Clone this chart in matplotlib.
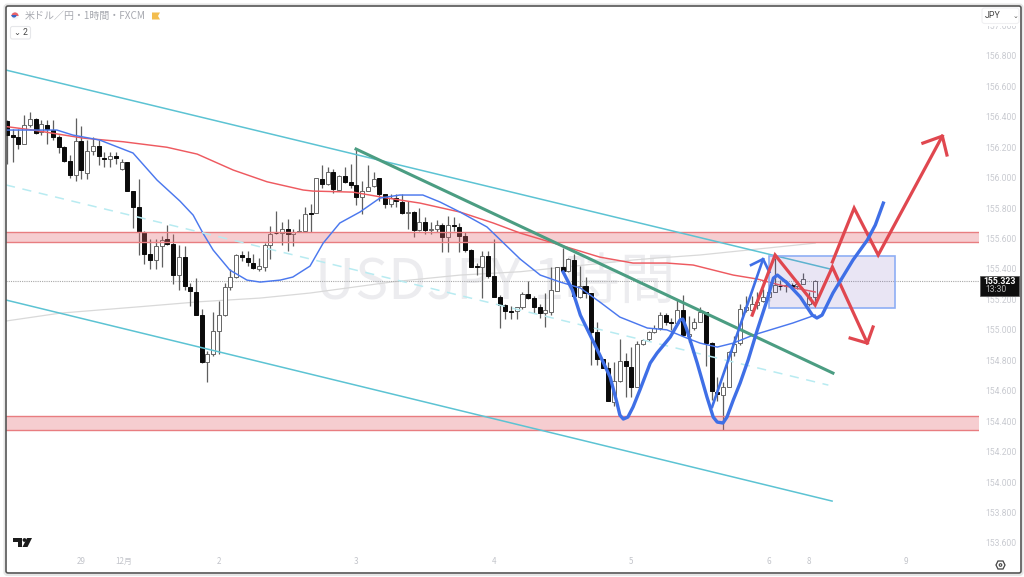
import matplotlib
matplotlib.use("Agg")
import matplotlib.pyplot as plt
from matplotlib.patches import FancyBboxPatch, Rectangle, Polygon, Circle, Wedge
from matplotlib.transforms import Affine2D

W, H = 1024, 577
CJK = ['Noto Sans CJK JP', 'DejaVu Sans']

open_ = [156.37,156.278,156.265,156.22,156.346,156.383,156.30,156.346,156.313,156.265,
         156.20,156.11,156.017,156.24,156.03,156.177,156.21,156.13,156.12,156.144,
         156.055,156.10,155.91,155.805,155.64,155.50,155.46,155.55,155.595,155.565,
         155.36,155.48,155.28,155.25,155.10,154.79,154.84,154.99,155.095,155.28,
         155.35,155.49,155.475,155.44,155.40,155.41,155.56,155.638,155.635,155.66,
         155.63,155.64,155.652,155.765,155.766,155.99,155.96,156.035,155.92,156.01,
         155.97,155.95,155.87,155.915,155.945,155.995,155.89,155.83,155.864,155.843,
         155.766,155.775,155.656,155.71,155.658,155.66,155.69,155.612,155.689,155.678,
         155.62,155.525,155.42,155.41,155.485,155.354,155.216,155.163,155.126,155.124,
         155.15,155.234,155.21,155.148,155.11,155.115,155.257,155.41,155.39,155.458,
         155.218,155.29,155.244,154.983,154.808,154.747,154.527,154.665,154.797,154.758,
         154.627,154.907,154.937,154.983,155.01,155.10,155.049,155.043,155.13,154.96,
         155.01,155.05,155.12,154.916,154.594,154.572,154.627,154.857,154.915,155.13,
         155.13,155.165,155.19,155.214,155.25,155.29,155.29,155.294,155.285,155.30,
         155.17,155.214]
close = [156.28,156.269,156.219,156.343,156.383,156.295,156.35,156.317,156.265,156.20,
         156.11,156.015,156.24,156.05,156.175,156.21,156.14,156.12,156.14,156.13,
         156.10,155.91,155.805,155.64,155.50,155.46,155.55,155.59,155.565,155.36,
         155.48,155.29,155.255,155.10,154.79,154.84,154.99,155.095,155.28,155.35,
         155.49,155.48,155.445,155.405,155.42,155.56,155.63,155.635,155.66,155.63,
         155.64,155.652,155.76,155.76,155.995,155.96,156.035,155.925,156.01,155.97,
         155.95,155.87,155.915,155.94,155.99,155.89,155.83,155.864,155.847,155.766,
         155.777,155.656,155.71,155.656,155.663,155.69,155.608,155.687,155.682,155.62,
         155.525,155.41,155.415,155.485,155.354,155.218,155.163,155.126,155.117,155.148,
         155.234,155.21,155.148,155.113,155.13,155.262,155.41,155.39,155.463,155.224,
         155.29,155.244,154.983,154.81,154.75,154.532,154.665,154.797,154.762,154.626,
         154.907,154.933,154.983,155.01,155.10,155.053,155.043,155.13,154.964,154.97,
         155.05,155.115,154.916,154.60,154.576,154.627,154.857,154.91,155.135,155.15,
         155.168,155.185,155.214,155.25,155.295,155.285,155.295,155.284,155.30,155.334,
         155.218,155.323]
high = [156.38,156.32,156.32,156.41,156.43,156.39,156.38,156.38,156.38,156.28,
        156.21,156.15,156.39,156.34,156.25,156.27,156.25,156.17,156.17,156.17,
        156.12,156.10,155.91,155.99,155.65,155.60,155.60,155.62,155.69,155.63,
        155.56,155.55,155.31,155.34,155.14,154.86,155.12,155.19,155.31,155.40,
        155.50,155.52,155.52,155.50,155.47,155.57,155.68,155.78,155.71,155.73,
        155.66,155.73,155.81,155.83,156.0,156.08,156.07,156.06,156.02,156.07,
        156.09,156.19,155.98,156.08,156.04,156.0,155.89,155.89,155.89,155.89,
        155.85,155.78,155.80,155.74,155.71,155.72,155.70,155.75,155.74,155.70,
        155.64,155.53,155.44,155.52,155.52,155.60,155.23,155.17,155.16,155.15,
        155.25,155.32,155.22,155.17,155.24,155.41,155.41,155.54,155.47,155.50,
        155.42,155.35,155.245,155.05,154.81,154.79,154.79,154.94,154.85,154.89,
        154.93,154.94,154.99,155.03,155.12,155.11,155.08,155.20,155.23,155.09,
        155.08,155.15,155.12,154.92,154.69,154.66,154.86,154.96,155.17,155.22,
        155.22,155.25,155.27,155.30,155.47,155.33,155.33,155.31,155.32,155.375,
        155.25,155.325]
low = [156.09,156.10,156.19,156.22,156.335,156.29,156.28,156.22,156.25,156.16,
       156.10,156.00,155.98,155.99,155.99,156.15,156.08,156.07,156.07,156.09,
       156.05,155.91,155.67,155.49,155.43,155.40,155.40,155.41,155.56,155.30,
       155.26,155.26,155.16,155.10,154.78,154.66,154.83,154.84,155.09,155.26,
       155.34,155.45,155.42,155.40,155.39,155.39,155.465,155.63,155.56,155.52,
       155.55,155.64,155.65,155.64,155.765,155.93,155.95,155.90,155.91,155.965,
       155.93,155.82,155.76,155.91,155.94,155.85,155.80,155.81,155.81,155.76,
       155.66,155.61,155.65,155.63,155.63,155.64,155.51,155.51,155.65,155.51,
       155.51,155.41,155.36,155.21,155.34,155.215,155.01,155.07,155.07,155.07,
       155.14,155.20,155.11,155.08,155.02,155.10,155.255,155.38,155.38,155.20,
       155.21,155.21,154.77,154.77,154.75,154.53,154.50,154.66,154.56,154.56,
       154.625,154.90,154.93,154.98,155.0,155.03,155.0,155.03,154.96,154.92,
       155.0,155.05,154.76,154.54,154.53,154.34,154.625,154.83,154.90,155.12,
       155.10,155.14,155.18,155.19,155.25,155.26,155.25,155.27,155.27,155.30,
       155.16,155.19]

red_ma_x = [0,4.5,13.3,20.3,27.9,33.2,39.5,45.4,51.7,53.4,60.4,66.4,72.1,79.1,84.9,89.6,96.6,103.5,109.3,115.2,119.8,126.8,131,135,141.1]
red_ma_y = [156.335,156.313,156.26,156.236,156.20,156.155,156.05,155.973,155.919,155.912,155.905,155.866,155.833,155.774,155.702,155.636,155.557,155.478,155.439,155.439,155.426,155.36,155.334,155.294,155.249]
blue_ma_x = [0,8.7,11.5,16.2,22,26.2,30.2,32.5,34.2,36,38.9,41.9,44.2,47.7,49.9,52.9,55.2,58.1,61.6,65.1,68.6,72.6,75.6,79.1,83.8,89.6,93.1,96.6,100.1,103.5,107,111.8,115.2,118.7,121,124,126.8,130.3,137.2,141.1]
blue_ma_y = [156.313,156.313,156.28,156.247,156.162,155.984,155.846,155.754,155.636,155.524,155.393,155.327,155.314,155.327,155.347,155.419,155.57,155.702,155.774,155.866,155.886,155.886,155.84,155.774,155.676,155.465,155.36,155.314,155.275,155.183,155.084,155.012,155.0,154.946,154.913,154.887,154.913,154.966,155.045,155.097]
gray_ma_x = [-0.2,9.3,23.2,33.7,44.2,52.9,67.4,79.1,89.6,109.3,113.5,121,141.1]
gray_ma_y = [155.058,155.11,155.152,155.185,155.209,155.242,155.316,155.36,155.382,155.459,155.472,155.492,155.57]

chan_x = [-0.17, 143.7]
chan_upper = [156.707, 155.40]
chan_lower_x = [-0.17, 144.05]
chan_lower = [155.196, 153.875]
chan_mid_x = [-0.17, 143.4]
chan_mid = [155.952, 154.637]
trend_x = [60.94, 144.2]
trend_y = [156.188, 154.716]

zone_hi = [155.641, 154.434]
zone_lo = [155.577, 154.342]
box_x = [133.1, 155.1]
box_y = [155.143, 155.485]

path_blue_x = [97.1,98.7,100.1,101.8,103.5,105.3,106.5,107,107.6,108.4,109.3,110.5,112.3,113.5,115.8,117.5,118,118.7,120.5,122.2,123.3,124,125,125.7,126.8,128,129.4,131,132.7,133.8,134.5,136.2,138.5,140.6,141.4,142.3,144.2,147.7,150.2,151.6,153]
path_blue_y = [155.38,155.262,155.097,154.966,154.835,154.69,154.519,154.44,154.414,154.427,154.493,154.605,154.782,154.848,154.953,155.065,155.071,155.0,154.782,154.559,154.427,154.394,154.388,154.427,154.539,154.651,154.802,155.0,155.196,155.34,155.36,155.308,155.216,155.097,155.078,155.097,155.242,155.459,155.59,155.689,155.833]
arrow_blue_x = [123.1,132]
arrow_blue_y = [154.493,155.465]
head_blue_x = [129.9,132,133.1]
head_blue_y = [155.426,155.465,155.38]
red1_x = [130.1,134.1,141.1,144.1,150.2]
red1_y = [155.097,155.492,155.163,155.413,154.913]
head_red1_x = [147.2,150.2,151.2]
head_red1_y = [154.946,154.913,155.019]
red2_x = [144.1,147.9,152.1,163.3]
red2_y = [155.446,155.8,155.492,156.273]
head_red2_x = [159.9,163.3,164.1]
head_red2_y = [156.227,156.273,156.149]

last_price = 155.323
price_ticks = [153.6,153.8,154.0,154.2,154.4,154.6,154.8,155.0,155.2,155.4,155.6,155.8,156.0,156.2,156.4,156.6,156.8,157.0]
date_pos = [12.9,20.3,37,61,85,109,133,140,157]
date_lab = ['29','12月','2','3','4','5','6','8','9']

fig = plt.figure(figsize=(W/100, H/100), dpi=100, facecolor='white')
ax = fig.add_axes([6/W, 1-572/H, (979-6)/W, (572-6)/H])
ax.set_xlim(-0.175, 169.7)
ax.set_ylim(153.409, 157.128)
for s in ax.spines.values():
    s.set_visible(False)

ax.text(0.3176, 0.5106, 'USDJPY 1時間', transform=ax.transAxes, ha='left', va='center',
        fontsize=40, color='#ececef', family=CJK, zorder=1)

ax.plot(gray_ma_x, gray_ma_y, color='#d9d9d9', lw=0.9, zorder=2)
ax.axhline(last_price, color='#a8a8a8', lw=0.8, ls=(0, (1, 1)), zorder=2)

idx = list(range(len(open_)))
ax.vlines(idx, low, high, color='#5f5f5f', lw=0.9, zorder=3)
for i, o, c in zip(idx, open_, close):
    down = c < o
    ax.bar(i, abs(c-o), bottom=min(o, c), width=0.7,
           facecolor='#0b0b0b' if down else 'white',
           edgecolor='#0b0b0b' if down else '#666666', lw=0.7, zorder=4)

for hi, lo in zip(zone_hi, zone_lo):
    ax.axhspan(lo, hi, facecolor='#e4666e', alpha=0.32, lw=0, zorder=5)
    ax.axhline(hi, color='#e87d80', lw=1.0, zorder=5)
    ax.axhline(lo, color='#e87d80', lw=1.0, zorder=5)

ax.plot(red_ma_x, red_ma_y, color='#ee5a60', lw=1.05, zorder=6)
ax.plot(blue_ma_x, blue_ma_y, color='#4b78ee', lw=1.05, zorder=6)

ax.plot(chan_x, chan_upper, color='#5cc3d3', lw=1.1, zorder=6)
ax.plot(chan_lower_x, chan_lower, color='#5cc3d3', lw=1.1, zorder=6)
ax.plot(chan_mid_x, chan_mid, color='#b8ebf1', lw=1.1, ls=(0, (6, 5)), zorder=6)
ax.plot(trend_x, trend_y, color='#4b9d82', lw=2.2, zorder=6)

ax.add_patch(Rectangle((box_x[0], box_y[0]), box_x[1]-box_x[0], box_y[1]-box_y[0],
                       facecolor=(0.40, 0.30, 0.72, 0.14), edgecolor='#8eaef5', lw=1.2, zorder=7))

ax.plot(arrow_blue_x, arrow_blue_y, color='#3f6fe6', lw=1.9, zorder=8)
ax.plot(head_blue_x, head_blue_y, color='#3f6fe6', lw=1.9, zorder=8)
ax.plot(red1_x, red1_y, color='#e0474f', lw=2.3, zorder=8, solid_joinstyle='miter')
ax.plot(head_red1_x, head_red1_y, color='#e0474f', lw=2.3, zorder=8)
ax.plot(red2_x, red2_y, color='#e0474f', lw=2.3, zorder=8, solid_joinstyle='miter')
ax.plot(head_red2_x, head_red2_y, color='#e0474f', lw=2.3, zorder=8)
ax.plot(path_blue_x, path_blue_y, color='#3f6fe6', lw=2.4, zorder=9, solid_joinstyle='round')

ax.yaxis.tick_right()
ax.set_yticks(price_ticks)
ax.set_yticklabels([f'{p:.3f}' for p in price_ticks], family='Roboto', fontsize=6.2, color='#c9cbd1')
ax.tick_params(axis='y', length=0, pad=4.3)
ax.set_xticks(date_pos)
ax.set_xticklabels(date_lab, family=CJK, fontsize=5.8, color='#c2c4ca')
ax.tick_params(axis='x', length=0, pad=-11)

# figure-level furniture, placed in image pixels
px = Affine2D().scale(1/W, -1/H).translate(0, 1) + fig.transFigure

def rbox(x0, y0, x1, y1, r, **kw):
    p = FancyBboxPatch((x0, y0), x1-x0, y1-y0, boxstyle=f'round,pad=0,rounding_size={r}',
                       transform=px, **kw)
    fig.add_artist(p)
    return p

def ftext(x, y, s, **kw):
    t = fig.text(x/W, 1-y/H, s, **kw)
    t.set_zorder(12)
    return t

rbox(4.5, 4.5, 1022.5, 575, 3, facecolor='none', edgecolor='#e6e6e6', lw=1.5, zorder=9)
rbox(6, 6, 1021, 573, 2, facecolor='none', edgecolor='#555555', lw=1.2, zorder=10)

# symbol header
fig.add_artist(Circle((15, 16), 3.6, transform=px, facecolor='#f4f4f6', edgecolor='none', zorder=11))
fig.add_artist(Wedge((15, 16), 3.6, 180, 360, transform=px, facecolor='#e8626a', edgecolor='none', zorder=11))
fig.add_artist(Wedge((14, 15), 2.6, 0, 180, transform=px, facecolor='#3a66c4', edgecolor='none', zorder=11))
ftext(25, 16, '米ドル／円・1時間・FXCM', fontsize=7.2, color='#a7a9b0', family=CJK, va='center', ha='left')
fig.add_artist(Polygon([(152, 12.5), (160, 12.5), (158, 16), (160, 19.5), (152, 19.5)], closed=True,
                       transform=px, facecolor='#f3bd4e', edgecolor='none', zorder=11))
rbox(10.5, 26.5, 30.5, 39, 2, facecolor='white', edgecolor='#e6e7ea', lw=0.8, zorder=11)
ftext(17, 32.5, '⌄', fontsize=6, color='#444444', family='DejaVu Sans', va='center', ha='center')
ftext(25, 32.7, '2', fontsize=6.2, color='#444444', family='Roboto', va='center', ha='center')

# logo
fig.add_artist(Polygon([(13, 538), (22, 538), (22, 547), (18, 547), (18, 542), (13, 542)], closed=True,
                       transform=px, facecolor='#1c1c1c', edgecolor='none', zorder=11))
fig.add_artist(Circle((24.5, 540), 1.9, transform=px, facecolor='#1c1c1c', edgecolor='none', zorder=11))
fig.add_artist(Polygon([(27, 538), (32, 538), (27.5, 547), (22.5, 547)], closed=True,
                       transform=px, facecolor='#1c1c1c', edgecolor='none', zorder=11))

# currency button
fig.add_artist(Rectangle((982, 8), 37, 17.5, transform=px, facecolor='white', edgecolor='none', zorder=11))
rbox(982, 8, 1019, 23.5, 2.5, facecolor='white', edgecolor='#f0f0f2', lw=0.8, zorder=11)
ftext(984.5, 16, 'JPY', fontsize=6.4, color='#444444', family='Roboto', va='center', ha='left')
ftext(1015, 15.5, '⌄', fontsize=5, color='#555555', family='DejaVu Sans', va='center', ha='center')

# last price tag
fig.add_artist(Rectangle((980, 276), 39, 19.5, transform=px, facecolor='#0e0e0e', edgecolor='#555555', lw=0.5, zorder=11))
ftext(999.5, 281, f'{last_price:.3f}', fontsize=6.2, color='white', family='Roboto', weight='bold', va='center', ha='center')
ftext(985, 290, '13:30', fontsize=6.2, color='#b9b9b9', family='Roboto', va='center', ha='left')

# settings icon
fig.add_artist(Polygon([(996, 565), (998, 561), (1003, 561), (1005, 565), (1003, 569), (998, 569)], closed=True,
                       transform=px, facecolor='white', edgecolor='#444444', lw=0.9, zorder=11))
fig.add_artist(Circle((1000.5, 565), 1.3, transform=px, facecolor='white', edgecolor='#444444', lw=0.8, zorder=12))

fig.savefig('out.png', dpi=100)
